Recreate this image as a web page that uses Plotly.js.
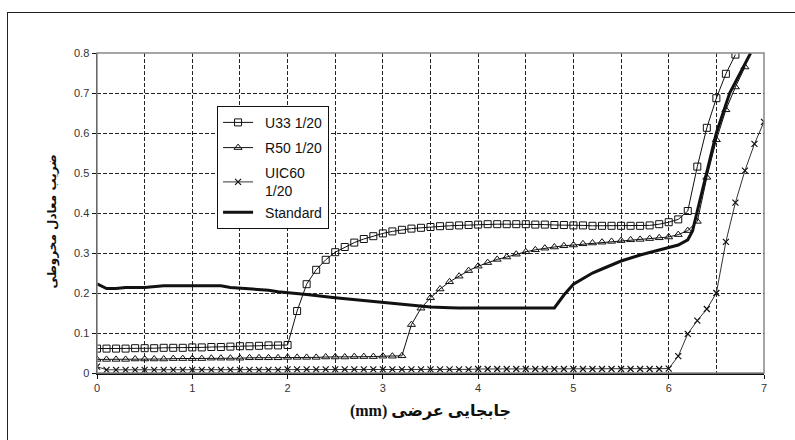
<!DOCTYPE html>
<html><head><meta charset="utf-8">
<script src="https://cdn.plot.ly/plotly-3.0.1.min.js"></script>
<style>
html,body{margin:0;padding:0;background:#fff;}
#wrap{position:relative;width:795px;height:440px;overflow:hidden;}
#chart{position:absolute;left:0;top:0;width:795px;height:440px;}
#frame{position:absolute;left:7px;top:12px;width:900px;height:900px;border-left:1.5px solid #222;border-top:1.5px solid #222;pointer-events:none;}
</style></head>
<body><div id="wrap"><div id="chart"></div><div id="frame"></div></div>
<script>
// x positions (mm) shared by the marker series
const xs = [0,0.1,0.2,0.3,0.4,0.5,0.6,0.7,0.8,0.9,1.0,1.1,1.2,1.3,1.4,1.5,1.6,1.7,1.8,1.9,
  2.0,2.1,2.2,2.3,2.4,2.5,2.6,2.7,2.8,2.9,3.0,3.1,3.2,3.3,3.4,3.5,3.6,3.7,3.8,3.9,
  4.0,4.1,4.2,4.3,4.4,4.5,4.6,4.7,4.8,4.9,5.0,5.1,5.2,5.3,5.4,5.5,5.6,5.7,5.8,5.9,
  6.0,6.1,6.2,6.3,6.4,6.5,6.6,6.7,6.8,6.9,7.0];

const u33 = [0.061,0.061,0.061,0.061,0.062,0.062,0.062,0.063,0.063,0.063,0.064,0.064,0.065,0.065,0.066,0.067,0.067,0.068,0.069,0.069,
  0.070,0.155,0.222,0.258,0.283,0.302,0.315,0.326,0.335,0.342,0.349,0.354,0.358,0.361,0.363,0.365,0.367,0.368,0.369,0.370,
  0.371,0.372,0.372,0.372,0.372,0.372,0.371,0.371,0.370,0.370,0.369,0.369,0.368,0.368,0.368,0.368,0.368,0.368,0.369,0.372,
  0.377,0.384,0.405,0.516,0.613,0.687,0.748,0.796];

const r50 = [0.034,0.034,0.034,0.034,0.035,0.035,0.035,0.035,0.036,0.036,0.036,0.036,0.037,0.037,0.037,0.037,0.038,0.038,0.038,0.038,
  0.039,0.039,0.039,0.039,0.040,0.040,0.040,0.041,0.041,0.041,0.042,0.042,0.043,0.121,0.162,0.188,0.210,0.228,0.242,0.256,
  0.267,0.276,0.284,0.290,0.297,0.303,0.308,0.312,0.315,0.318,0.320,0.323,0.325,0.327,0.329,0.331,0.333,0.334,0.336,0.338,
  0.340,0.346,0.356,0.379,0.489,0.583,0.658,0.715,0.765];

const uic60 = [0.016,0.008,0.008,0.008,0.008,0.008,0.008,0.008,0.008,0.008,0.008,0.008,0.008,0.008,0.008,0.008,0.008,0.008,0.008,0.008,
  0.009,0.009,0.009,0.009,0.009,0.009,0.009,0.009,0.009,0.009,0.009,0.009,0.009,0.009,0.009,0.009,0.009,0.009,0.009,0.009,
  0.010,0.010,0.010,0.010,0.010,0.010,0.010,0.010,0.010,0.010,0.010,0.010,0.010,0.010,0.010,0.010,0.010,0.010,0.010,0.010,
  0.011,0.042,0.098,0.131,0.160,0.200,0.328,0.426,0.506,0.573,0.628];

const stdX = [0,0.1,0.2,0.3,0.5,0.7,1.0,1.3,1.4,1.6,1.8,1.9,2.0,2.2,2.5,2.8,3.0,3.2,3.4,3.5,3.7,3.8,4.8,4.9,5.0,5.2,5.3,5.5,5.7,5.9,6.1,6.2,6.25,6.3,6.4,6.5,6.64,6.75,6.86];
const stdY = [0.223,0.211,0.211,0.214,0.214,0.218,0.218,0.218,0.214,0.211,0.207,0.203,0.201,0.196,0.188,0.181,0.175,0.171,0.167,0.165,0.163,0.1625,0.1625,0.195,0.222,0.250,0.260,0.280,0.295,0.307,0.320,0.333,0.355,0.405,0.505,0.600,0.700,0.750,0.800];

const names = ['\u2002U33 1/20','\u2002R50 1/20','\u2002UIC60<br>\u20021/20','\u2002Standard'];
const xTickVals = [0,1,2,3,4,5,6,7];
const xTitle = '\u202Bجابجایی عرضی (mm)\u202C';
const yTitle = 'ضریب معادل مخروطی';

const traces = [
  {x: xs.slice(0, u33.length), y: u33, name: names[0], mode:'lines+markers', legendgroup:'a',
   line:{color:'#111', width:1}, marker:{symbol:'square-open', size:7, color:'#111', line:{width:1}}},
  {x: xs.slice(0, r50.length), y: r50, name: names[1], mode:'lines+markers', legendgroup:'b',
   line:{color:'#111', width:1}, marker:{symbol:'triangle-up-open', size:7, color:'#111', line:{width:1}}},
  {x: xs.slice(0, uic60.length), y: uic60, name: names[2], mode:'lines+markers', legendgroup:'c',
   line:{color:'#333', width:1}, marker:{symbol:'x-thin-open', size:6, color:'#111', line:{width:1.2, color:'#111'}}},
  {x: stdX, y: stdY, name: names[3], mode:'lines', legendgroup:'c',
   line:{color:'#111', width:3}}
];

const gridStyle = {gridcolor:'#222', gridwidth:1, griddash:'4px,2px'};

const layout = {
  width:795, height:440,
  margin:{l:97, r:31, t:53, b:67},
  paper_bgcolor:'#fff', plot_bgcolor:'#fff',
  font:{family:'Liberation Sans, Arial, sans-serif', color:'#333', size:11},
  showlegend:true,
  legend:{x:0.18, y:0.835, xanchor:'left', yanchor:'top', bgcolor:'#fff',
    bordercolor:'#111', borderwidth:1, traceorder:'grouped', tracegroupgap:4,
    font:{family:'Liberation Sans, Arial, sans-serif', size:14, color:'#111'}},
  xaxis:{range:[0,7], tickvals:xTickVals, showgrid:true, ...gridStyle,
    zeroline:false, showline:true, linecolor:'#111', linewidth:1.5,
    ticks:'outside', ticklen:4, tickcolor:'#111',
    minor:{dtick:0.5, showgrid:true, ...gridStyle},
    tickfont:{size:11, color:'#333'},
    title:{text:xTitle, standoff:12, font:{family:'Liberation Serif, Times New Roman, DejaVu Sans, serif', size:16, color:'#111', weight:'bold'}}},
  yaxis:{range:[0,0.8], dtick:0.1, showgrid:true, ...gridStyle,
    zeroline:false, showline:true, linecolor:'#111', linewidth:1.5,
    ticks:'outside', ticklen:4, tickcolor:'#111',
    tickfont:{size:11, color:'#333'}},
  annotations:[{text:yTitle, xref:'paper', yref:'paper', x:-0.066, y:0.473, xanchor:'center', yanchor:'middle',
    textangle:-90, showarrow:false, font:{family:'DejaVu Sans, sans-serif', size:12, color:'#111', weight:'bold'}}],
  shapes:[{type:'rect', xref:'paper', yref:'paper', x0:0, x1:1, y0:0, y1:1, line:{color:'#888', width:1.5}, layer:'above'}]
};

Plotly.newPlot('chart', traces, layout, {displayModeBar:false, staticPlot:true});
</script></body></html>
